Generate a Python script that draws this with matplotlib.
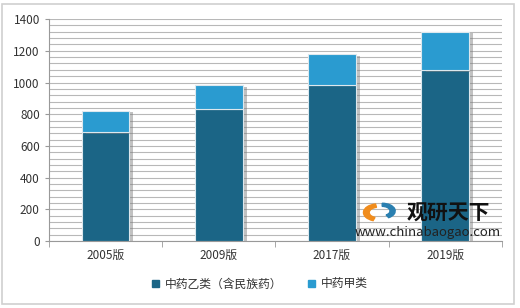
import numpy as np
import matplotlib.pyplot as plt
import matplotlib.patheffects as pe
from matplotlib.patches import Patch, Wedge

plt.rcParams['font.family'] = ['Noto Sans CJK SC', 'DejaVu Sans']

# 数据
categories = ['2005版', '2009版', '2017版', '2019版']
yi_lei = [687, 834, 986, 1078]     # 中药乙类（含民族药）
jia_lei = [133, 148, 191, 242]     # 中药甲类
series_names = ['中药乙类（含民族药）', '中药甲类']

c_dark = '#1b6586'
c_light = '#2a9bd0'

fig = plt.figure(figsize=(5.2, 3.08), dpi=100)
fig.patch.set_facecolor('white')
# 外框
fig.add_artist(plt.Rectangle((0.004, 0.012), 0.985, 0.976, transform=fig.transFigure,
                             fill=False, edgecolor='#d0d0d0', lw=1.2))
ax = fig.add_axes([0.094, 0.2175, 0.871, 0.7205])

x = np.arange(len(categories))
shadow = [pe.SimplePatchShadow(offset=(3, -1), shadow_rgbFace='#777777', alpha=0.45), pe.Normal()]
b1 = ax.bar(x, yi_lei, width=0.42, color=c_dark, edgecolor='#dde8ee', lw=0.8, zorder=3)
b2 = ax.bar(x, jia_lei, bottom=yi_lei, width=0.42, color=c_light, edgecolor='#dde8ee', lw=0.8, zorder=3)
for b in list(b1) + list(b2):
    b.set_path_effects(shadow)

ax.set_xlim(-0.5, 3.5)
ax.set_ylim(0, 1400)
ax.set_yticks(np.arange(0, 1401, 200))
ax.set_yticks(np.arange(0, 1401, 40), minor=True)
ax.grid(axis='y', which='both', color='#b8b8b8', lw=0.8, zorder=0)
ax.tick_params(axis='y', which='minor', length=0)
ax.tick_params(axis='y', which='major', length=3, color='#999999', labelsize=8.5, labelcolor='#333333')

ax.set_xticks(x)
ax.set_xticklabels(categories)
ax.set_xticks(np.arange(-0.5, 4, 1), minor=True)
ax.tick_params(axis='x', which='major', length=0, labelsize=8.5, labelcolor='#333333', pad=6)
ax.tick_params(axis='x', which='minor', length=4, color='#999999')

for s in ['top', 'right']:
    ax.spines[s].set_visible(False)
ax.spines['left'].set_color('#999999')
ax.spines['bottom'].set_color('#999999')

handles = [Patch(color=c_dark, label=series_names[0]), Patch(color=c_light, label=series_names[1])]
leg = fig.legend(handles=handles, loc='center', bbox_to_anchor=(0.5, 0.078), ncol=2,
                 frameon=False, fontsize=8.5, handlelength=0.6, handleheight=0.6,
                 columnspacing=2.2, handletextpad=0.5)
for t in leg.get_texts():
    t.set_color('#333333')

# 水印
fig.text(0.862, 0.307, '观研天下', fontsize=15, fontweight='bold', color='#111111',
         ha='center', va='center', zorder=10)
fig.text(0.823, 0.245, 'www.chinabaogao.com', fontsize=9.5, color='#222222',
         ha='center', va='center', zorder=10)
fig.add_artist(Wedge((0.727, 0.31), 0.028, 100, 250, width=0.011, transform=fig.transFigure,
                     color='#f08c1c', zorder=10))
fig.add_artist(Wedge((0.735, 0.315), 0.025, -60, 90, width=0.01, transform=fig.transFigure,
                     color='#2a7fb0', zorder=10))

plt.savefig('out.png', dpi=100)
